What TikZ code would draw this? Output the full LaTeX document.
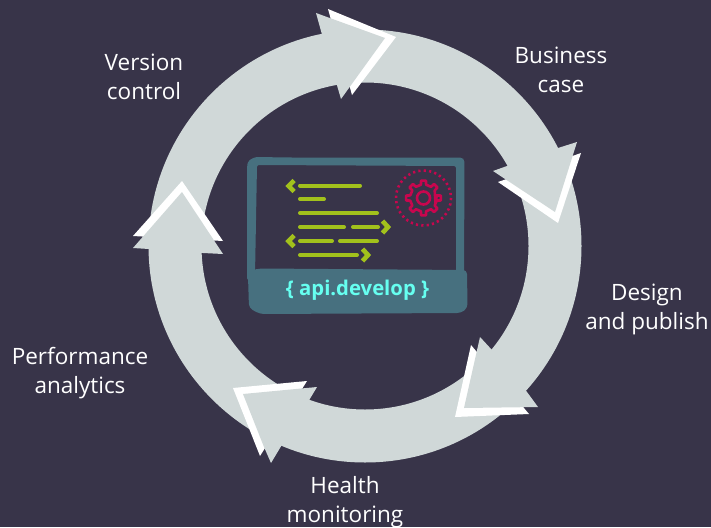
\documentclass[tikz,border=0pt]{standalone}
\usepackage{fontspec}
\setmainfont{Open Sans}
\definecolor{bgc}{HTML}{383449}
\definecolor{ringc}{HTML}{D0D8D8}
\definecolor{tealc}{HTML}{47707F}
\definecolor{greenc}{HTML}{A2C11C}
\definecolor{cyanc}{HTML}{66FFF0}
\definecolor{gearc}{HTML}{C8064E}
\tikzset{
  lbl/.style={text=white,align=center,inner sep=0pt,font=\fontsize{22.5}{29}\selectfont},
  codeline/.style={draw=greenc,line width=4pt,line cap=round},
  chev/.style={draw=greenc,line width=4.6pt,line join=miter,miter limit=4},
  headwhite/.style={fill=white},
  headgrey/.style={fill=ringc},
  gearline/.style={draw=gearc,line width=2.6pt}
}
\begin{document}
\begin{tikzpicture}[x=1pt,y=-1pt]
\useasboundingbox (0,0) rectangle (711,527);
\fill[bgc] (0,0) rectangle (711,527);
% ring
\fill[ringc,even odd rule] (365,246) circle[radius=216.5] (365,246) circle[radius=163.5];
% white chevrons
\fill[headwhite] (328,9) -- (396,37) -- (352,95) -- cycle;
\fill[headwhite] (581,153) -- (558,223) -- (498,182) -- cycle;
\fill[headwhite] (471,345) -- (455,417) -- (529,414) -- cycle;
\fill[headwhite] (233,388) -- (307,381) -- (260,456) -- cycle;
\fill[headwhite] (133,236) -- (182,181) -- (223,241) -- cycle;
% grey arrow heads
\fill[headgrey] (316,13) -- (385,38) -- (341,99) -- (336,82) -- (321,31) -- cycle;
\fill[headgrey] (577,142) -- (555,212) -- (493,171) -- (507,166) -- (558,148) -- cycle;
\fill[headgrey] (480,337) -- (492,350) -- (527,392) -- (538,407) -- (464,408) -- cycle;
\fill[headgrey] (243,394) -- (317,387) -- (308,402) -- (280,448) -- (271,463) -- (264,447) -- cycle;
\fill[headgrey] (182,192) -- (223,254) -- (203,253) -- (149,249) -- (133,248) -- cycle;
% labels
\node[lbl] (version) at (144,77) {Version\\control};
\node[lbl] (business) at (561,69.5) {Business\\case};
\node[lbl] (design) at (647,309.5) {Design\\and publish};
\node[lbl] (performance) at (80,373) {Performance\\analytics};
\node[lbl] (health) at (345,502) {Health\\monitoring};
% monitor
\fill[tealc,even odd rule,rounded corners=2pt]
  (247,167) -- (248,161) -- (255,157) -- (290,157.5) -- (462,157.5) -- (464.5,160) -- (464,275) -- (247,280) -- cycle
  (257,165) -- (456,166) -- (456,275) -- (255,275) -- cycle;
\fill[tealc,rounded corners=4pt]
  (248,276) -- (252,270) -- (260,268.5) -- (467,270) -- (467.5,308) -- (461,313) -- (260,314) -- (249,308) -- cycle;
\node[text=cyanc,inner sep=0pt,font=\fontsize{20.3}{26}\selectfont\bfseries] (api) at (357.5,290) {\{ api.develop \}};
% code
\draw[codeline] (300,185.5) -- (360,185.5);
\draw[codeline] (300,199) -- (324,199);
\draw[codeline] (300,213) -- (377,213);
\draw[codeline] (300,227) -- (344,227) (353,227) -- (378,227);
\draw[codeline] (300,241) -- (332,241) (340,241) -- (377,241);
\draw[codeline] (300,255) -- (357,255);
\draw[chev] (294,180.5) -- (288.5,186) -- (294,191.5);
\draw[chev] (294,235.5) -- (288.5,241) -- (294,246.5);
\draw[chev] (382.5,221) -- (388,227) -- (382.5,233);
\draw[chev] (362.5,249) -- (368,255) -- (362.5,261);
% gear
\begin{scope}[shift={(423.5,198)}]
\draw[gearline,dash pattern=on 2.2pt off 3.2pt] (0,0) circle[radius=27.5];
\draw[gearline,line join=round] (22.5:13)
  foreach \a in {0,45,...,315} { -- (\a-11:13.5) -- (\a-8:17.5) -- (\a+8:17.5) -- (\a+11:13.5) } -- cycle;
\draw[gearline] (0,0) circle[radius=6.5];
\end{scope}
\end{tikzpicture}
\end{document}
